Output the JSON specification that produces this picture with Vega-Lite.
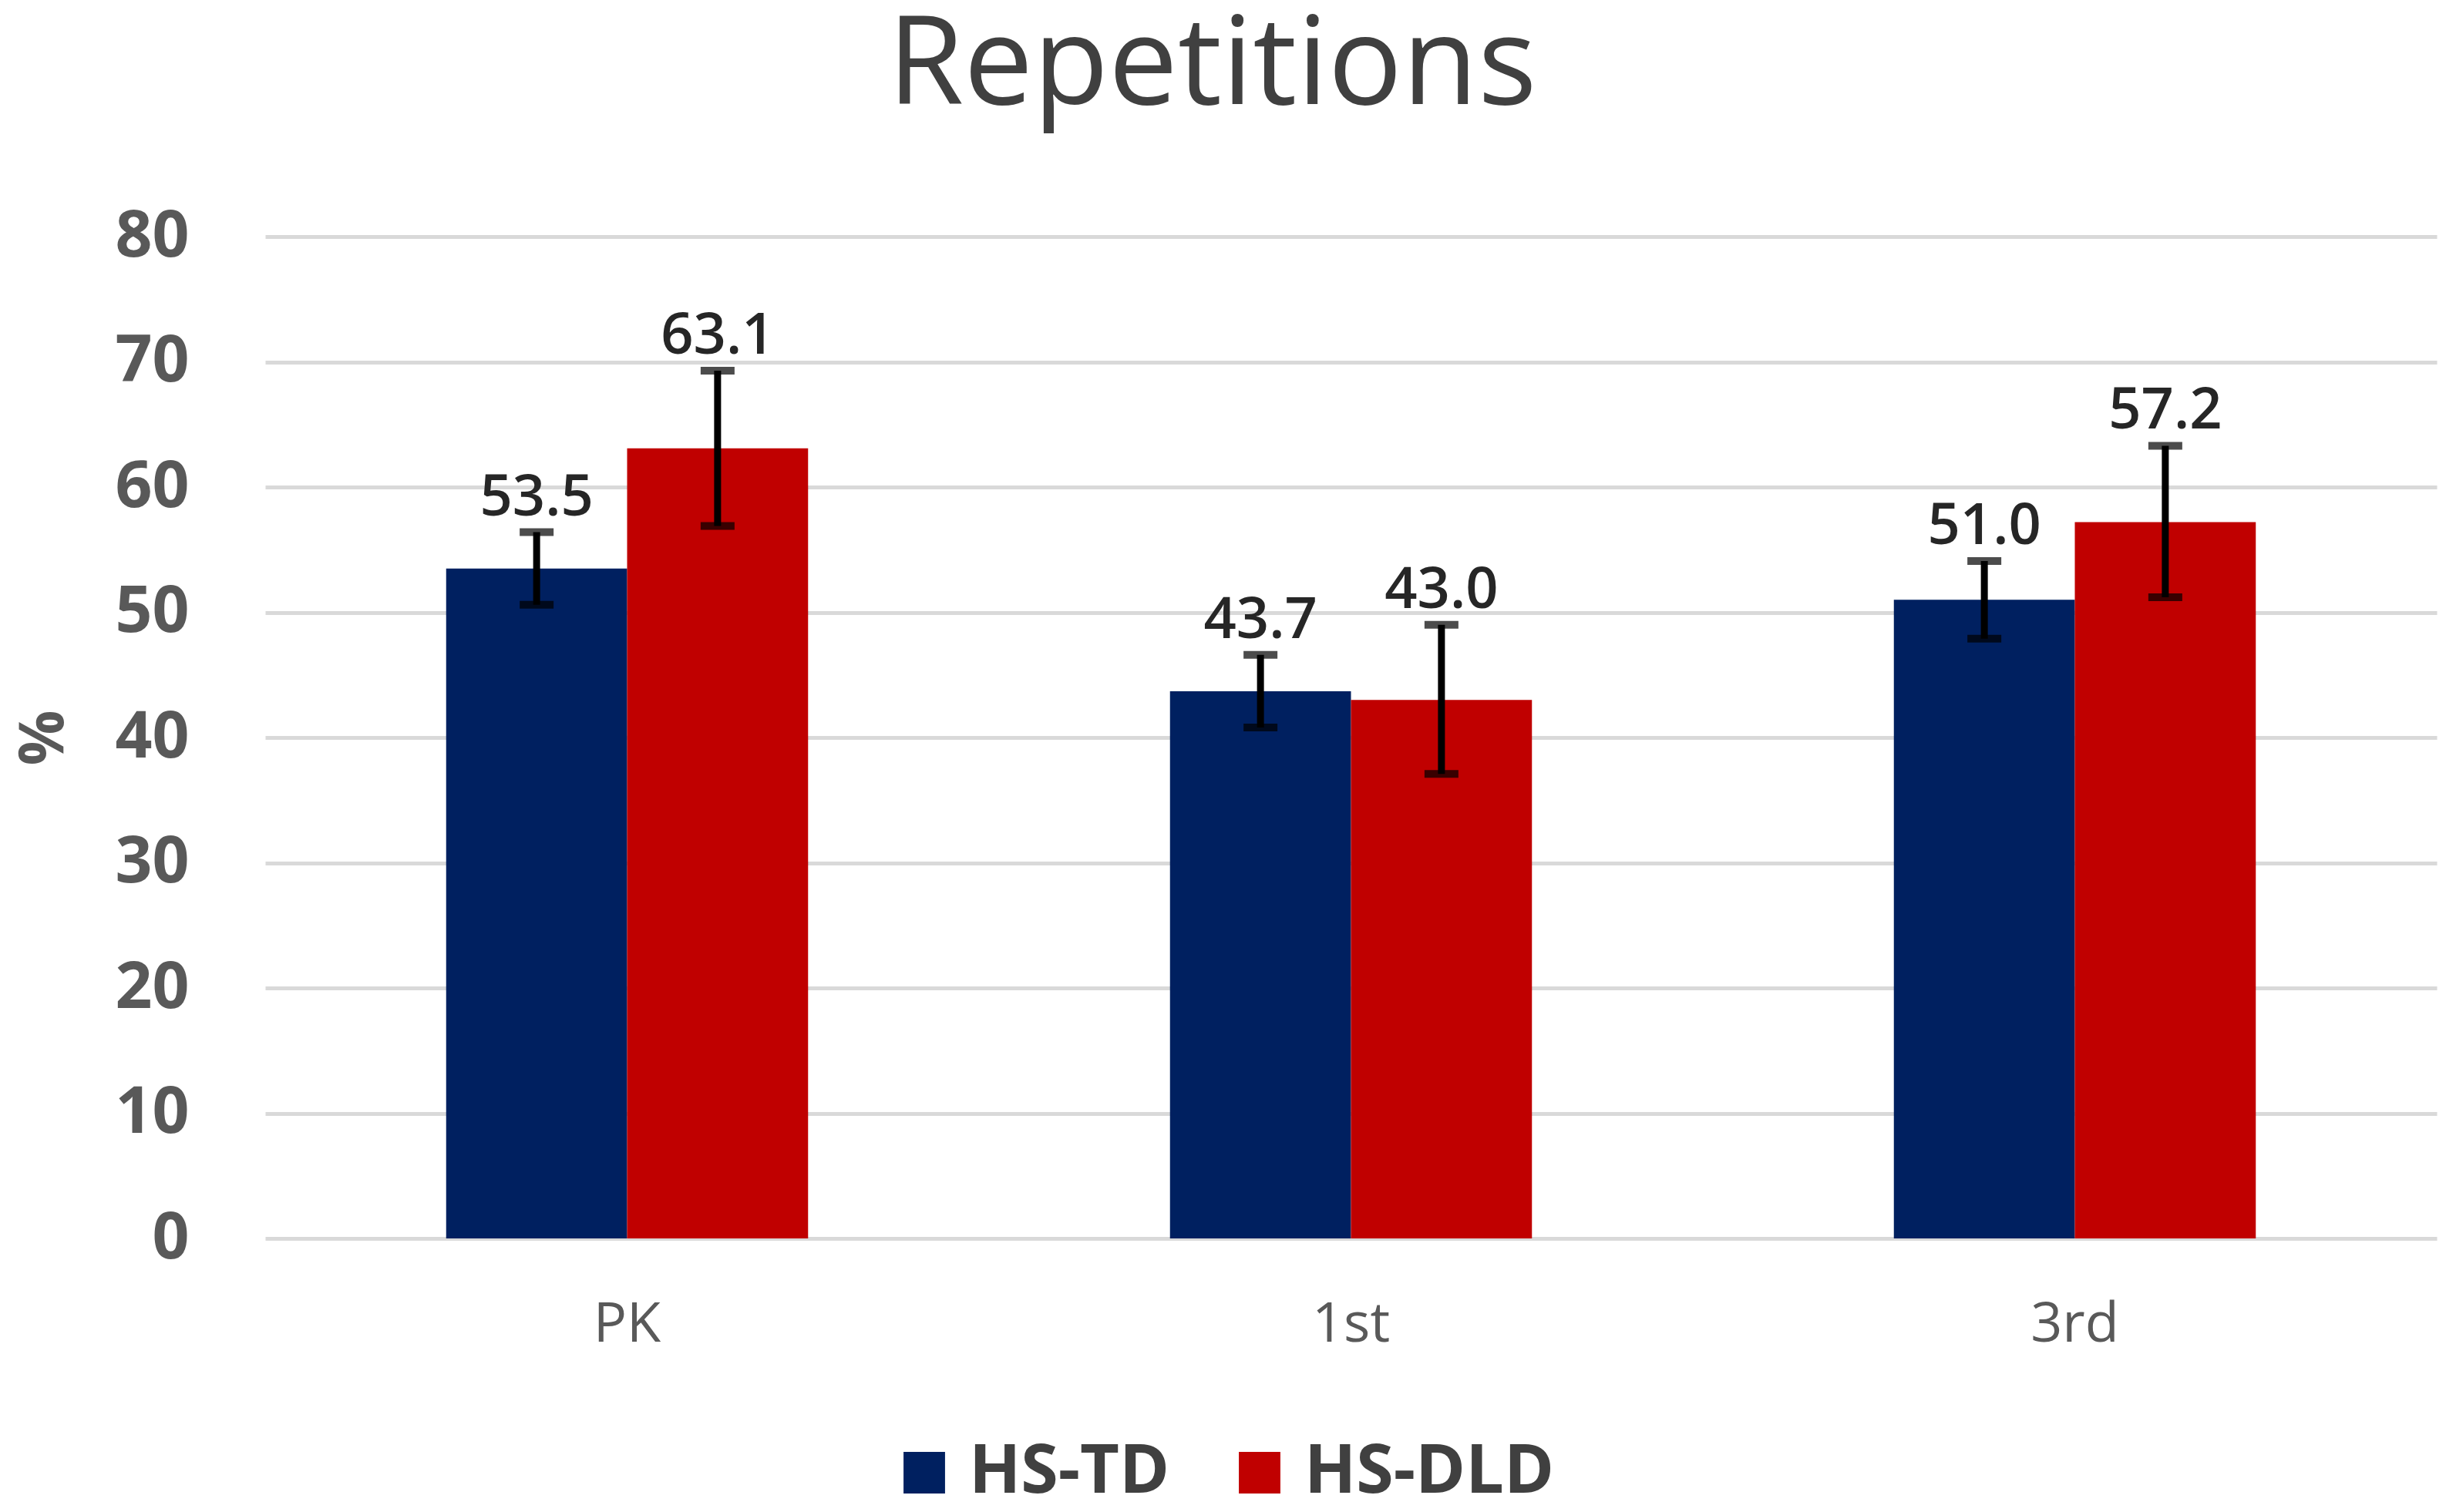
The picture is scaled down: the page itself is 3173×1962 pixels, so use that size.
{
  "$schema": "https://vega.github.io/schema/vega-lite/v6.json",
  "width": 2817,
  "height": 1300,
  "autosize": {"type": "none"},
  "padding": {"left": 344, "top": 307, "right": 12, "bottom": 355},
  "background": "white",
  "title": {
    "text": "Repetitions",
    "font": "Open Sans",
    "fontSize": 160,
    "fontWeight": "normal",
    "color": "#404040",
    "anchor": "middle",
    "dx": -180,
    "offset": 96
  },
  "config": {
    "view": {"stroke": null},
    "legend": {"padding": 0}
  },
  "data": {
    "values": [
      {"grade": "PK", "group": "HS-TD", "value": 53.5, "lo": 50.6, "hi": 56.4},
      {"grade": "PK", "group": "HS-DLD", "value": 63.1, "lo": 56.9, "hi": 69.3},
      {"grade": "1st", "group": "HS-TD", "value": 43.7, "lo": 40.8, "hi": 46.6},
      {"grade": "1st", "group": "HS-DLD", "value": 43.0, "lo": 37.1, "hi": 49.0},
      {"grade": "3rd", "group": "HS-TD", "value": 51.0, "lo": 47.9, "hi": 54.1},
      {"grade": "3rd", "group": "HS-DLD", "value": 57.2, "lo": 51.2, "hi": 63.3}
    ]
  },
  "encoding": {
    "x": {
      "field": "grade",
      "type": "nominal",
      "sort": ["PK", "1st", "3rd"],
      "scale": {"paddingInner": 0.5, "paddingOuter": 0.25},
      "axis": {
        "title": null,
        "domain": false,
        "ticks": false,
        "labelAngle": 0,
        "labelFont": "Open Sans",
        "labelFontSize": 72,
        "labelColor": "#595959",
        "labelPadding": 76
      }
    },
    "xOffset": {
      "field": "group",
      "type": "nominal",
      "sort": ["HS-TD", "HS-DLD"],
      "scale": {"paddingInner": 0, "paddingOuter": 0}
    }
  },
  "layer": [
    {
      "mark": {"type": "bar"},
      "encoding": {
        "y": {
          "field": "value",
          "type": "quantitative",
          "scale": {"domain": [0, 80], "nice": false},
          "axis": {
            "title": "%",
            "values": [0, 10, 20, 30, 40, 50, 60, 70, 80],
            "domain": false,
            "ticks": false,
            "grid": true,
            "gridColor": "#d9d9d9",
            "gridWidth": 5,
            "labelFont": "Open Sans",
            "labelFontSize": 84,
            "labelFontWeight": "bold",
            "labelColor": "#595959",
            "labelPadding": 99,
            "titleFont": "Open Sans",
            "titleFontSize": 80,
            "titleFontWeight": "bold",
            "titleColor": "#595959",
            "titleX": -287,
            "titleY": 650,
            "titleBaseline": "middle"
          }
        },
        "color": {
          "field": "group",
          "type": "nominal",
          "sort": ["HS-TD", "HS-DLD"],
          "scale": {"domain": ["HS-TD", "HS-DLD"], "range": ["#002060", "#C00000"]},
          "legend": {
            "title": null,
            "orient": "none",
            "direction": "horizontal",
            "legendX": 811,
            "legendY": 1560,
            "symbolType": "square",
            "symbolSize": 2900,
            "symbolStrokeWidth": 0,
            "labelFont": "Open Sans",
            "labelFontSize": 88,
            "labelFontWeight": "bold",
            "labelColor": "#404040",
            "labelOffset": 14,
            "labelLimit": 0,
            "columnPadding": 72
          }
        }
      }
    },
    {
      "mark": {"type": "rule", "color": "black", "strokeWidth": 9},
      "encoding": {
        "y": {"field": "lo", "type": "quantitative"},
        "y2": {"field": "hi"}
      }
    },
    {
      "mark": {"type": "tick", "color": "black", "size": 44, "thickness": 10},
      "encoding": {
        "y": {"field": "lo", "type": "quantitative"}
      }
    },
    {
      "mark": {"type": "tick", "color": "black", "size": 44, "thickness": 10},
      "encoding": {
        "y": {"field": "hi", "type": "quantitative"}
      }
    },
    {
      "mark": {
        "type": "text",
        "font": "Open Sans",
        "fontSize": 74,
        "fontWeight": 600,
        "color": "#262626",
        "baseline": "alphabetic",
        "dy": -22
      },
      "encoding": {
        "y": {"field": "hi", "type": "quantitative"},
        "text": {"field": "value", "type": "quantitative", "format": ".1f"}
      }
    }
  ]
}
